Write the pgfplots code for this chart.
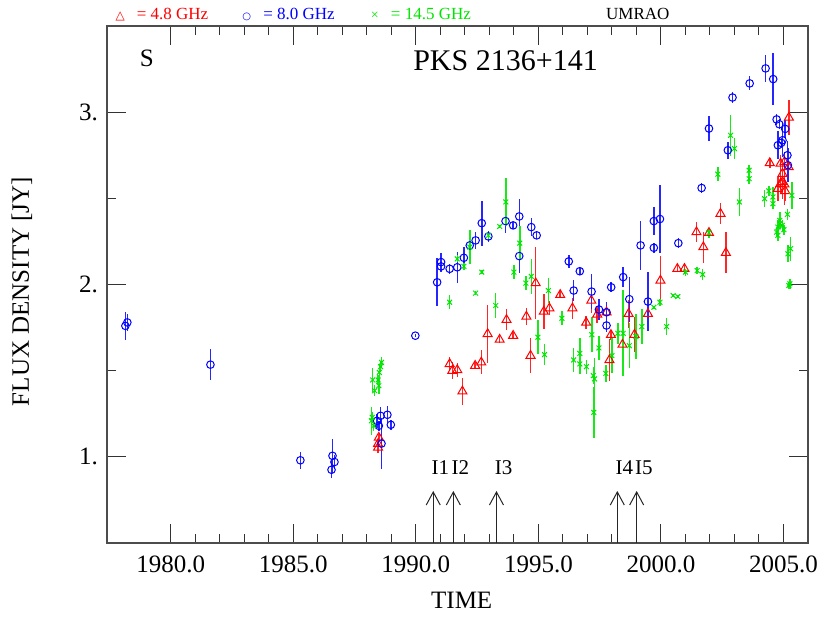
\documentclass[border=0pt]{standalone}
\usepackage{fontspec}
\setmainfont{Liberation Serif}
\newfontfamily\dejavu{DejaVu Sans}
\usepackage{pgfplots}
\usepackage{pgfplotstable}
\pgfplotsset{compat=1.18}
\usetikzlibrary{arrows.meta}
\definecolor{cR}{rgb}{1,0,0}
\definecolor{cB}{rgb}{0,0,1}
\definecolor{cG}{rgb}{0,0.9,0}

\pgfplotstableread{
x y e
1988.46 1.076 0.03
1988.49 1.112 0.02
1988.46 1.054 0.03
1991.38 1.539 0.04
1991.49 1.500 0.05
1991.69 1.504 0.04
1991.90 1.380 0.08
1992.42 1.529 0.02
1992.67 1.548 0.07
1992.93 1.713 0.17
1993.42 1.680 0.02
1993.70 1.795 0.06
1993.97 1.703 0.02
1994.51 1.814 0.05
1994.68 1.587 0.10
1994.89 2.008 0.21
1995.22 1.843 0.10
1995.45 1.862 0.04
1995.89 1.940 0.02
1996.39 1.862 0.06
1996.95 1.779 0.04
1997.16 1.907 0.07
1997.40 1.826 0.05
1997.78 1.839 0.04
1997.96 1.708 0.03
1997.90 1.562 0.12
1998.43 1.651 0.02
1998.68 1.830 0.08
1998.92 1.709 0.10
1999.47 1.830 0.07
1999.98 2.023 0.14
2000.67 2.091 0.02
2000.96 2.091 0.03
2001.45 2.304 0.06
2001.73 2.217 0.09
2001.96 2.300 0.02
2002.43 2.411 0.06
2002.65 2.184 0.12
2004.44 2.705 0.03
2004.88 2.702 0.05
2005.04 2.711 0.06
2005.21 2.682 0.05
2005.22 2.969 0.10
2004.96 2.643 0.06
2004.96 2.595 0.10
2004.88 2.585 0.06
2005.04 2.581 0.12
2004.77 2.556 0.07
2005.07 2.543 0.06
}\redtab

\pgfplotstableread{
x y e
1978.15 1.760 0.08
1978.23 1.780 0.05
1981.62 1.535 0.09
1985.29 0.980 0.05
1986.56 0.925 0.05
1986.60 1.006 0.10
1986.68 0.970 0.04
1988.42 1.209 0.04
1988.56 1.238 0.05
1988.49 1.180 0.03
1988.84 1.244 0.05
1988.98 1.186 0.03
1988.60 1.077 0.15
1989.98 1.703 0.01
1990.87 2.013 0.14
1991.03 2.130 0.05
1991.03 2.105 0.03
1991.38 2.091 0.03
1991.69 2.100 0.09
1991.96 2.155 0.06
1992.20 2.227 0.04
1992.44 2.256 0.05
1992.69 2.356 0.13
1992.96 2.279 0.03
1993.66 2.368 0.07
1993.97 2.343 0.02
1994.22 2.395 0.10
1994.22 2.165 0.10
1994.71 2.333 0.05
1994.93 2.285 0.02
1996.24 2.134 0.04
1996.69 2.077 0.02
1996.44 1.965 0.06
1997.17 1.959 0.10
1997.47 1.855 0.06
1997.78 1.839 0.06
1997.78 1.762 0.04
1997.97 1.984 0.03
1998.46 2.043 0.06
1998.71 1.915 0.13
1999.17 2.227 0.14
1999.47 1.901 0.17
1999.71 2.368 0.08
1999.96 2.380 0.20
1999.71 2.213 0.03
2000.71 2.240 0.03
2001.66 2.560 0.03
2001.96 2.905 0.07
2002.73 2.779 0.05
2002.92 3.085 0.03
2003.62 3.167 0.04
2004.27 3.254 0.08
2004.58 3.192 0.15
2004.72 2.958 0.03
2004.83 2.930 0.03
2005.07 2.903 0.05
2004.96 2.837 0.10
2004.91 2.822 0.03
2004.77 2.808 0.08
2005.16 2.750 0.08
2005.18 2.692 0.10
}\bluetab

\pgfplotstableread{
x y e
1988.60 1.548 0.03
1988.56 1.523 0.03
1988.51 1.490 0.04
1988.46 1.446 0.03
1988.24 1.446 0.07
1988.32 1.384 0.03
1988.49 1.413 0.05
1988.19 1.209 0.08
1988.28 1.180 0.03
1988.22 1.229 0.03
1991.38 1.897 0.04
1991.69 2.149 0.02
1991.96 2.105 0.02
1992.20 2.217 0.10
1992.44 1.950 0.01
1992.69 2.072 0.01
1992.96 2.285 0.02
1993.26 1.878 0.07
1993.42 2.337 0.01
1993.67 2.479 0.14
1994.00 2.072 0.04
1994.24 2.240 0.10
1994.49 2.008 0.04
1994.71 2.047 0.10
1994.98 1.694 0.10
1995.25 1.593 0.06
1995.41 1.965 0.07
1995.96 1.804 0.04
1996.44 1.562 0.07
1996.69 1.600 0.09
1996.69 1.539 0.06
1996.96 1.523 0.04
1997.18 1.709 0.10
1997.24 1.471 0.05
1997.29 1.452 0.12
1997.26 1.258 0.15
1997.47 1.632 0.07
1997.75 1.484 0.05
1998.00 1.587 0.10
1998.24 1.717 0.06
1998.46 1.717 0.25
1998.71 1.645 0.13
1998.98 1.698 0.13
1999.22 1.756 0.10
1999.71 1.868 0.01
1999.96 1.897 0.02
2000.23 1.756 0.05
2000.50 1.936 0.01
2000.69 1.930 0.01
2001.00 2.072 0.02
2001.48 2.081 0.02
2001.70 2.058 0.03
2001.96 2.300 0.03
2002.32 2.640 0.04
2002.84 2.866 0.12
2003.00 2.789 0.06
2003.20 2.479 0.08
2003.60 2.663 0.03
2003.60 2.614 0.03
2004.23 2.498 0.05
2004.40 2.543 0.03
2004.57 2.508 0.06
2004.57 2.469 0.03
2005.34 2.517 0.08
2005.16 2.407 0.03
2004.85 2.372 0.05
2004.77 2.333 0.04
2004.95 2.343 0.03
2005.02 2.318 0.03
2004.72 2.304 0.03
2004.77 2.285 0.03
2004.85 2.353 0.03
2005.29 2.208 0.07
2005.18 2.178 0.05
2005.26 2.004 0.03
2005.22 1.994 0.02
}\greentab

\begin{document}
\begin{tikzpicture}
\begin{axis}[
  scale only axis, width=350.5pt, height=258.5pt,
  xmin=1977.4, xmax=2006.0, ymin=0.5, ymax=3.5,
  xtick={1980,1985,1990,1995,2000,2005},
  xticklabels={1980.0,1985.0,1990.0,1995.0,2000.0,2005.0},
  minor x tick num=4,
  ytick={1,2,3}, yticklabels={1.,2.,3.},
  minor y tick num=1,
  tick align=inside,
  major tick length=9.5pt, minor tick length=4.5pt,
  tick style={black!80, line width=0.5pt},
  axis line style={black!70, line width=0.6pt},
  ticklabel style={font=\fontsize{12.5}{14}\selectfont},
  xticklabel style={yshift=-3pt},
  yticklabel style={xshift=-1pt},
  /pgf/number format/assume math mode=true,
  xlabel={TIME}, ylabel={FLUX DENSITY [JY]},
  every axis x label/.style={at={(axis description cs:0.506,0)}, anchor=base, yshift=-32.5pt, font=\fontsize{12.5}{15}\selectfont},
  every axis y label/.style={at={(axis description cs:-0.1213,0.4865)}, rotate=90, anchor=center, font=\fontsize{12.5}{15}\selectfont},
  clip=false,
]
\addplot[only marks, mark=triangle, mark size=2.6pt, draw=cR, color=cR, mark options={line width=0.5pt, draw=cR},
  error bars/.cd, y dir=both, y explicit, error mark=none,
  error bar style={draw=cR!85, line width=0.75pt}]
  table[x=x, y=y, y error=e] {\redtab};
\addplot[only marks, mark=o, mark size=1.9pt, draw=cB, color=cB, mark options={line width=0.5pt, draw=cB},
  error bars/.cd, y dir=both, y explicit, error mark=none,
  error bar style={draw=cB!85, line width=0.75pt}]
  table[x=x, y=y, y error=e] {\bluetab};
\addplot[only marks, mark=x, mark size=1.7pt, draw=cG, color=cG, mark options={line width=0.5pt, draw=cG},
  error bars/.cd, y dir=both, y explicit, error mark=none,
  error bar style={draw=cG!90, line width=0.75pt}]
  table[x=x, y=y, y error=e] {\greentab};

% event arrows
\foreach \t/\l in {1990.71/I1, 1991.53/I2, 1993.29/I3, 1998.22/I4, 1999.01/I5}{
  \edef\tmp{\noexpand\draw[black!85, line width=0.5pt, -{Straight Barb[length=6.5pt, width=7pt, line width=0.5pt]}] (axis cs:\t,0.5) -- (axis cs:\t,0.802);
  \noexpand\node[anchor=base west, inner sep=0pt, font=\noexpand\fontsize{10.5}{12}\noexpand\selectfont, xshift=-1pt] at (axis cs:\t,0.90) {\l};}
  \tmp
}

\node[anchor=center, font=\fontsize{15}{17}\selectfont] at (axis cs:1993.66,3.30) {PKS 2136+141};
\node[anchor=center, font=\fontsize{12.5}{14}\selectfont] at (axis cs:1979.03,3.31) {S};

% top legend line
\node[anchor=base, inner sep=0pt, text=cR, font=\dejavu\fontsize{6}{7}\selectfont] at (axis cs:1977.94,3.535) {△};
\node[anchor=base west, inner sep=0pt, text=cR, font=\fontsize{8.5}{10}\selectfont] at (axis cs:1978.60,3.535) {= 4.8 GHz};
\node[anchor=base, inner sep=0pt, text=cB, font=\dejavu\fontsize{5}{6}\selectfont] at (axis cs:1983.10,3.535) {○};
\node[anchor=base west, inner sep=0pt, text=cB, font=\fontsize{8.5}{10}\selectfont] at (axis cs:1983.76,3.535) {= 8.0 GHz};
\node[anchor=base, inner sep=0pt, text=cG, font=\fontsize{7}{8}\selectfont] at (axis cs:1988.33,3.535) {×};
\node[anchor=base west, inner sep=0pt, text=cG, font=\fontsize{8.5}{10}\selectfont] at (axis cs:1988.97,3.535) {= 14.5 GHz};
\node[anchor=base west, inner sep=0pt, font=\fontsize{8.5}{10}\selectfont] at (axis cs:1997.75,3.535) {UMRAO};

\coordinate (bbsw) at (rel axis cs:0,0);
\coordinate (bbne) at (rel axis cs:1,1);
\end{axis}
\pgfresetboundingbox
\path ([shift={(-53.5pt,-36.5pt)}]bbsw) rectangle ([shift={(11pt,13pt)}]bbne);
\end{tikzpicture}
\end{document}
